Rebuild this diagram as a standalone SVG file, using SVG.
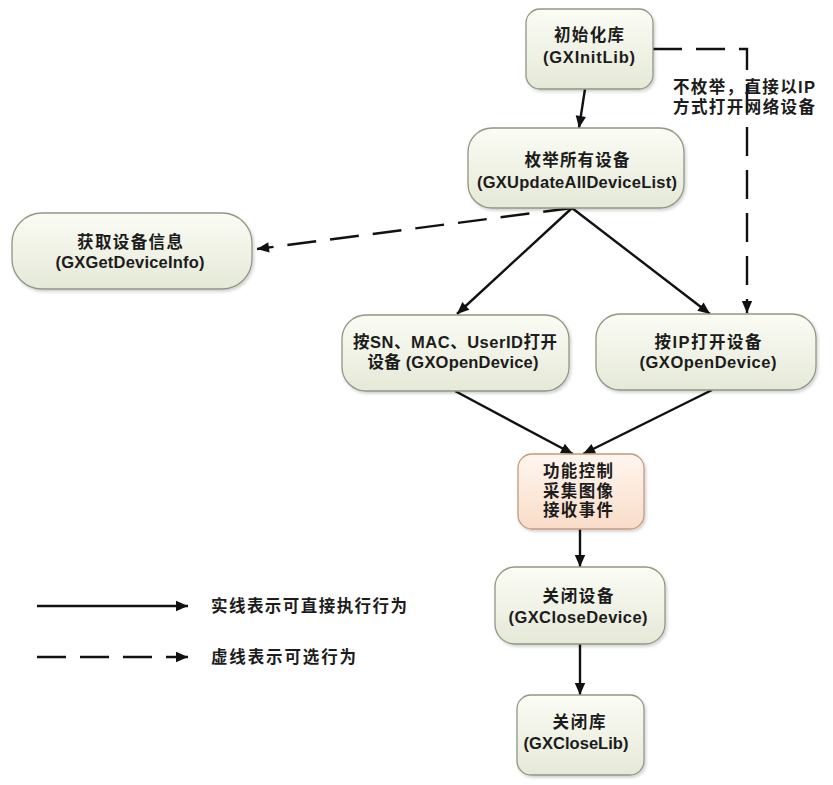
<svg xmlns="http://www.w3.org/2000/svg" width="833" height="785" viewBox="0 0 833 785">
  <defs>
    <linearGradient id="gGreen" x1="0" y1="0" x2="0" y2="1">
      <stop offset="0" stop-color="#fbfcf5"/>
      <stop offset="1" stop-color="#e5e9d7"/>
    </linearGradient>
    <linearGradient id="gPeach" x1="0" y1="0" x2="0" y2="1">
      <stop offset="0" stop-color="#fff6ef"/>
      <stop offset="1" stop-color="#f9dcc8"/>
    </linearGradient>
    <filter id="shadow" x="-10%" y="-10%" width="125%" height="130%">
      <feDropShadow dx="1.5" dy="2" stdDeviation="1.5" flood-color="#000" flood-opacity="0.18"/>
    </filter>
    <marker id="arrow" viewBox="0 0 12 12" refX="12" refY="6" markerWidth="13" markerHeight="12" markerUnits="userSpaceOnUse" orient="auto">
      <path d="M0,0.8 L12,6 L0,11.2 Z" fill="#111"/>
    </marker>
  </defs>
  <style>
    .box { fill: url(#gGreen); stroke: #8e9882; stroke-width: 1.3; filter: url(#shadow); }
    .boxp { fill: url(#gPeach); stroke: #c49a7e; stroke-width: 1.3; filter: url(#shadow); }
    text { font-family: "Liberation Sans", "Noto Sans CJK SC", sans-serif; font-size: 16.5px; font-weight: bold; fill: #1c1c1c; }
    .c { text-anchor: middle; }
    .solid { stroke: #111; stroke-width: 2.4; fill: none; marker-end: url(#arrow); }
    .dash { stroke: #111; stroke-width: 2.4; fill: none; stroke-dasharray: 29 14; marker-end: url(#arrow); }
  </style>
  <rect width="833" height="785" fill="#ffffff"/>

  <g id="connectors">
    <line class="solid" x1="585" y1="89" x2="579" y2="128"/>
    <path class="dash" d="M653,49 H747 V313"/>
    <line class="dash" x1="572" y1="208" x2="257" y2="249"/>
    <line class="solid" x1="572" y1="208" x2="457" y2="314"/>
    <line class="solid" x1="572" y1="208" x2="710" y2="314"/>
    <line class="solid" x1="455" y1="391" x2="573" y2="454"/>
    <line class="solid" x1="712" y1="390" x2="583" y2="454"/>
    <line class="solid" x1="580" y1="529" x2="580" y2="567"/>
    <line class="solid" x1="580" y1="644" x2="580" y2="695"/>
  </g>

  <g id="label-ip">
    <text x="673" y="93" textLength="142" lengthAdjust="spacing">不枚举，直接以IP</text>
    <text x="673" y="113" textLength="142" lengthAdjust="spacing">方式打开网络设备</text>
  </g>

  <g id="node-init">
    <rect class="box" x="526" y="9" width="127" height="80" rx="14"/>
    <text class="c" x="589" y="41" textLength="70" lengthAdjust="spacing">初始化库</text>
    <text class="c" x="589" y="63" textLength="92" lengthAdjust="spacing">(GXInitLib)</text>
  </g>

  <g id="node-enum">
    <rect class="box" x="468" y="128" width="216" height="80" rx="24"/>
    <text class="c" x="577" y="166" textLength="105" lengthAdjust="spacing">枚举所有设备</text>
    <text class="c" x="577" y="188" textLength="200" lengthAdjust="spacing">(GXUpdateAllDeviceList)</text>
  </g>

  <g id="node-info">
    <rect class="box" x="12" y="213" width="240" height="76" rx="30"/>
    <text class="c" x="130" y="248" textLength="106" lengthAdjust="spacing">获取设备信息</text>
    <text class="c" x="130" y="268" textLength="149" lengthAdjust="spacing">(GXGetDeviceInfo)</text>
  </g>

  <g id="node-sn">
    <rect class="box" x="342" y="315" width="227" height="76" rx="24"/>
    <text class="c" x="455" y="348" textLength="204" lengthAdjust="spacing">按SN、MAC、UserID打开</text>
    <text class="c" x="453" y="368" textLength="171" lengthAdjust="spacing">设备 (GXOpenDevice)</text>
  </g>

  <g id="node-ip">
    <rect class="box" x="596" y="314" width="220" height="76" rx="24"/>
    <text class="c" x="708" y="348" textLength="107" lengthAdjust="spacing">按IP打开设备</text>
    <text class="c" x="708" y="368" textLength="137" lengthAdjust="spacing">(GXOpenDevice)</text>
  </g>

  <g id="node-func">
    <rect class="boxp" x="518" y="454" width="126" height="75" rx="14"/>
    <text class="c" x="578" y="477" textLength="70" lengthAdjust="spacing">功能控制</text>
    <text class="c" x="578" y="497" textLength="70" lengthAdjust="spacing">采集图像</text>
    <text class="c" x="578" y="516" textLength="70" lengthAdjust="spacing">接收事件</text>
  </g>

  <g id="node-closedev">
    <rect class="box" x="495" y="567" width="170" height="77" rx="20"/>
    <text class="c" x="578" y="602" textLength="71" lengthAdjust="spacing">关闭设备</text>
    <text class="c" x="578" y="623" textLength="139" lengthAdjust="spacing">(GXCloseDevice)</text>
  </g>

  <g id="node-closelib">
    <rect class="box" x="517" y="695" width="127" height="80" rx="14"/>
    <text class="c" x="579" y="728" textLength="53" lengthAdjust="spacing">关闭库</text>
    <text class="c" x="576" y="749" textLength="105" lengthAdjust="spacing">(GXCloseLib)</text>
  </g>

  <g id="legend">
    <line class="solid" x1="37" y1="606" x2="188" y2="606"/>
    <text x="211" y="612" textLength="196" lengthAdjust="spacing">实线表示可直接执行行为</text>
    <line class="dash" x1="37" y1="657" x2="188" y2="657"/>
    <text x="211" y="663" textLength="145" lengthAdjust="spacing">虚线表示可选行为</text>
  </g>
</svg>
